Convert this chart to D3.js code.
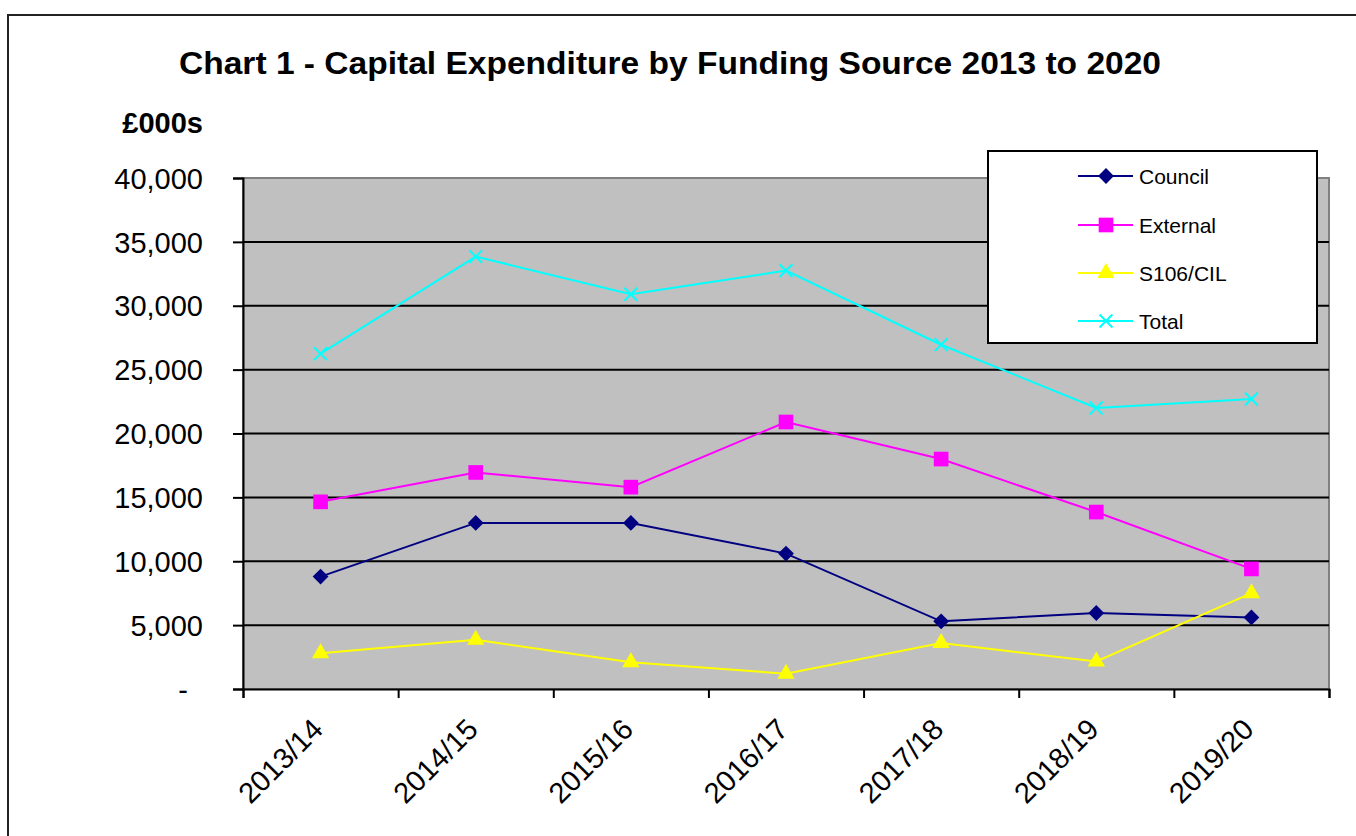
<!DOCTYPE html>
<html lang="en">
<head>
<meta charset="utf-8">
<title>Chart 1 - Capital Expenditure by Funding Source</title>
<script src="https://cdn.jsdelivr.net/npm/d3@7"></script>
<style>
  html, body { margin: 0; padding: 0; background: #fff; }
  svg { display: block; font-family: "Liberation Sans", Arial, sans-serif; }
</style>
</head>
<body>
<script>
// data (£000s)
const years = ["2013/14", "2014/15", "2015/16", "2016/17", "2017/18", "2018/19", "2019/20"];
const council = [8800, 13000, 13000, 10600, 5300, 5950, 5600];
const external = [14650, 16950, 15800, 20900, 18000, 13850, 9400];
const s106 = [2800, 3850, 2100, 1200, 3600, 2150, 7500];
const total = [26250, 33850, 30900, 32750, 26950, 22000, 22700];
const yTicks = [0, 5000, 10000, 15000, 20000, 25000, 30000, 35000, 40000];

// diamond = square turned 45deg
const series = [
  { name: "Council", values: council, color: "#000080", marker: d3.symbolSquare, size: 125, rot: 45 },
  { name: "External", values: external, color: "#FF00FF", marker: d3.symbolSquare, size: 215, rot: 0 },
  { name: "S106/CIL", values: s106, color: "#FFFF00", marker: d3.symbolTriangle, size: 130, rot: 0 },
  { name: "Total", values: total, color: "#00FFFF", marker: d3.symbolX, size: 110, rot: 0 }
];

const w = 1356, h = 836;
const plotLeft = 243, plotRight = 1329, plotTop = 178, plotBottom = 689;

const svg = d3.select("body").append("svg")
  .attr("width", w)
  .attr("height", h);

// outer chart frame (only top and left edges show)
svg.append("rect")
  .attr("x", 8).attr("y", 15)
  .attr("width", w + 20).attr("height", h + 20)
  .attr("fill", "#fff")
  .attr("stroke", "#222")
  .attr("stroke-width", 2);

let x = d3.scaleBand().domain(years).range([plotLeft, plotRight]).padding(0);
let xTickScale = d3.scaleLinear().domain([0, years.length]).range([plotLeft, plotRight]);
let y = d3.scaleLinear().domain([0, 40000]).range([plotBottom, plotTop]);
const cx = d => x(d) + x.bandwidth() / 2;

// plot area
svg.append("rect")
  .attr("x", plotLeft).attr("y", plotTop)
  .attr("width", plotRight - plotLeft).attr("height", plotBottom - plotTop)
  .attr("fill", "#C0C0C0")
  .attr("stroke", "#808080")
  .attr("stroke-width", 2);

// gridlines
svg.append("g").selectAll("line")
  .data(yTicks.filter(t => t > 0 && t < 40000))
  .enter().append("line")
  .attr("x1", plotLeft).attr("x2", plotRight)
  .attr("y1", d => y(d)).attr("y2", d => y(d))
  .attr("stroke", "#000")
  .attr("stroke-width", 2);

// y axis
let yAxis = d3.axisLeft(y)
  .tickValues(yTicks)
  .tickSize(10)
  .tickPadding(30)
  .tickFormat(d => d === 0 ? "-" : d3.format(",")(d));

let yax = svg.append("g")
  .attr("transform", "translate(" + plotLeft + ",0)")
  .call(yAxis);
yax.select(".domain").attr("stroke", "#000").attr("stroke-width", 2);
yax.selectAll(".tick line").attr("stroke", "#000").attr("stroke-width", 2);
yax.selectAll(".tick text")
  .attr("font-size", "29px")
  .attr("font-family", "Liberation Sans, Arial, sans-serif")
  .attr("fill", "#000")
  .attr("dy", "0.35em")
  .filter(d => d === 0).attr("dx", -15);

// x axis: ticks sit on category boundaries
let xAxis = d3.axisBottom(xTickScale)
  .tickValues(d3.range(years.length + 1))
  .tickSize(9)
  .tickFormat("");
let xax = svg.append("g")
  .attr("transform", "translate(0," + plotBottom + ")")
  .call(xAxis);
xax.select(".domain").attr("stroke", "#000").attr("stroke-width", 2);
xax.selectAll(".tick line").attr("stroke", "#000").attr("stroke-width", 2);

svg.append("g").selectAll("text")
  .data(years)
  .enter().append("text")
  .attr("transform", d => "translate(" + (cx(d) + 4) + ",731) rotate(-45)")
  .attr("text-anchor", "end")
  .attr("font-size", "29px")
  .attr("fill", "#000")
  .text(d => d);

// lines and markers
let line = d3.line()
  .x((d, i) => cx(years[i]))
  .y(d => y(d));

function marker(sel, s) {
  sel.attr("d", d3.symbol().type(s.marker).size(s.size))
    .attr("fill", s.marker === d3.symbolX ? "none" : s.color)
    .attr("stroke", s.color)
    .attr("stroke-width", s.marker === d3.symbolX ? 2 : 0);
}

series.forEach(s => {
  let g = svg.append("g");
  g.append("path")
    .attr("d", line(s.values))
    .attr("fill", "none")
    .attr("stroke", s.color)
    .attr("stroke-width", 2);
  g.selectAll("path.m")
    .data(s.values)
    .enter().append("path")
    .attr("class", "m")
    .attr("transform", (d, i) => "translate(" + cx(years[i]) + "," + y(d) + ") rotate(" + s.rot + ")")
    .call(marker, s);
});

// title and unit label
svg.append("text")
  .attr("x", 670).attr("y", 74)
  .attr("text-anchor", "middle")
  .attr("font-size", "32px")
  .attr("font-weight", "bold")
  .attr("fill", "#000")
  .attr("textLength", 982)
  .attr("lengthAdjust", "spacingAndGlyphs")
  .text("Chart 1  - Capital Expenditure by Funding Source 2013 to 2020");

svg.append("text")
  .attr("x", 203).attr("y", 133)
  .attr("text-anchor", "end")
  .attr("font-size", "29px")
  .attr("font-weight", "bold")
  .attr("fill", "#000")
  .text("£000s");

// legend
let legend = svg.append("g");
legend.append("rect")
  .attr("x", 988).attr("y", 151)
  .attr("width", 329).attr("height", 192)
  .attr("fill", "#fff")
  .attr("stroke", "#000")
  .attr("stroke-width", 2);

let legendY = [176, 225, 273, 321];
series.forEach((s, i) => {
  let row = legend.append("g").attr("transform", "translate(0," + legendY[i] + ")");
  row.append("line")
    .attr("x1", 1078).attr("x2", 1133)
    .attr("stroke", s.color)
    .attr("stroke-width", 2);
  row.append("path")
    .attr("transform", "translate(1106,0) rotate(" + s.rot + ")")
    .call(marker, s);
  row.append("text")
    .attr("x", 1139).attr("y", 0)
    .attr("dy", "0.36em")
    .attr("font-size", "21px")
    .attr("fill", "#000")
    .text(s.name);
});
</script>
</body>
</html>
